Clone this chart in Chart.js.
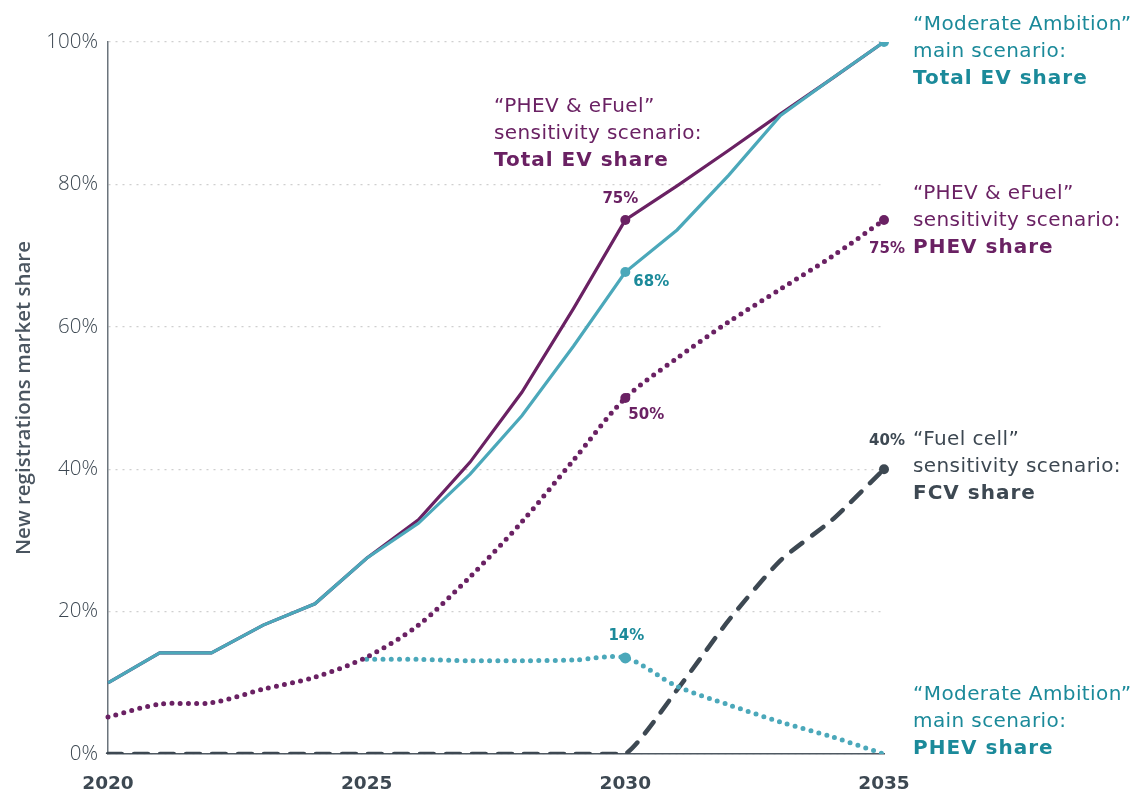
<!DOCTYPE html>
<html>
<head>
<meta charset="utf-8">
<script src="https://cdn.jsdelivr.net/npm/chart.js@4/dist/chart.umd.min.js"></script>
<style>
html,body{margin:0;padding:0;background:#fff;}
#wrap{width:1139px;height:791px;}
</style>
</head>
<body>
<div id="wrap"><canvas id="c" width="1139" height="791"></canvas></div>
<script>
const years = ['2020','2021','2022','2023','2024','2025','2026','2027','2028','2029','2030','2031','2032','2033','2034','2035'];
const xTickLabels = ['2020','2025','2030','2035'];
const yTickValues = [0,20,40,60,80,100];
const moderateTotalEV = [10,14.2,14.2,18.1,21.1,27.5,32.4,39.3,47.5,57.3,67.7,73.6,81.3,89.7,94.9,100];
const phevEfuelTotalEV = [10,14.2,14.2,18.1,21.1,27.5,32.9,41.0,50.8,62.6,75,79.8,84.8,89.9,94.9,100];
const phevEfuelPHEV = [5.2,7.0,7.2,9.1,10.8,13.6,18.1,24.9,32.6,41.3,50,55.6,60.7,65.3,69.9,75];
const moderatePHEV = [null,null,null,null,null,13.3,13.3,13.1,13.1,13.2,13.5,9.5,6.9,4.5,2.4,0];
const fuelCellFCV = [0,0,0,0,0,0,0,0,0,0,0,9,18.8,27.2,32.9,40];

const PURPLE = '#6a2163';
const TEAL_LINE = '#4ba8ba';
const TEAL_TEXT = '#1b8a9a';
const GRAY = '#3d4852';
const FONT = '"DejaVu Sans", sans-serif';

function markers(idxs, r){ return ctx => idxs.includes(ctx.dataIndex) ? r : 0; }

const annot = {
  id: 'annot',
  afterDatasetsDraw(chart){
    const ctx = chart.ctx;
    const xs = chart.scales.x, ys = chart.scales.y;
    const ca = chart.chartArea;
    ctx.save();
    ctx.textBaseline = 'middle';
    function txt(s, x, y, color, size, weight, align, spacing){
      ctx.font = (weight||400) + ' ' + size + 'px ' + FONT;
      ctx.letterSpacing = (spacing||0) + 'px';
      ctx.fillStyle = color;
      ctx.textAlign = align || 'left';
      ctx.fillText(s, x, y);
    }
    function block(lines, x, y, color){
      txt(lines[0], x, y, color, 20, 400, 'left', 0.4);
      txt(lines[1], x, y + 27, color, 20, 400, 'left', 0.4);
      txt(lines[2], x, y + 54, color, 20, 700, 'left', 1);
    }
    const rx = ca.right + 29;
    block(['\u201CModerate Ambition\u201D','main scenario:','Total EV share'], rx, 25, TEAL_TEXT);
    block(['\u201CPHEV & eFuel\u201D','sensitivity scenario:','PHEV share'], rx, 194, PURPLE);
    block(['\u201CFuel cell\u201D','sensitivity scenario:','FCV share'], rx, 440, GRAY);
    block(['\u201CModerate Ambition\u201D','main scenario:','PHEV share'], rx, 695, TEAL_TEXT);
    block(['\u201CPHEV & eFuel\u201D','sensitivity scenario:','Total EV share'], 494, 107, PURPLE);

    const x30 = xs.getPixelForValue(10), x35 = xs.getPixelForValue(15);
    txt('75%', x30 - 5, ys.getPixelForValue(phevEfuelTotalEV[10]) - 21, PURPLE, 15, 700, 'center');
    txt('68%', x30 + 8, ys.getPixelForValue(moderateTotalEV[10]) + 10, TEAL_TEXT, 15, 700, 'left');
    txt('50%', x30 + 3, ys.getPixelForValue(phevEfuelPHEV[10]) + 17, PURPLE, 15, 700, 'left');
    txt('14%', x30 + 1, ys.getPixelForValue(moderatePHEV[10]) - 22, TEAL_TEXT, 15, 700, 'center');
    txt('75%', x35 + 21, ys.getPixelForValue(phevEfuelPHEV[15]) + 29, PURPLE, 15, 700, 'right');
    txt('40%', x35 + 21, ys.getPixelForValue(fuelCellFCV[15]) - 28, GRAY, 15, 700, 'right');
    ctx.restore();
  }
};

new Chart(document.getElementById('c'), {
  type: 'line',
  data: {
    labels: years,
    datasets: [
      { label: 'Moderate Ambition total EV', data: moderateTotalEV, borderColor: TEAL_LINE, backgroundColor: TEAL_LINE,
        borderWidth: 3.2, pointRadius: markers([10,15],5), pointBorderWidth: 0, tension: 0 },
      { label: 'PHEV & eFuel total EV', data: phevEfuelTotalEV, borderColor: PURPLE, backgroundColor: PURPLE,
        borderWidth: 3.2, pointRadius: markers([10],5), pointBorderWidth: 0, tension: 0 },
      { label: 'PHEV & eFuel PHEV', data: phevEfuelPHEV, borderColor: PURPLE, backgroundColor: PURPLE,
        borderWidth: 5, borderDash: [0, 8.2], borderCapStyle: 'round', pointRadius: markers([10,15],5), pointBorderWidth: 0, tension: 0.3 },
      { label: 'Moderate Ambition PHEV', data: moderatePHEV, borderColor: TEAL_LINE, backgroundColor: TEAL_LINE,
        borderWidth: 5, borderDash: [0, 8.2], borderCapStyle: 'round', pointRadius: markers([10],5.5), pointBorderWidth: 0, tension: 0.3 },
      { label: 'Fuel cell FCV', data: fuelCellFCV, borderColor: GRAY, backgroundColor: GRAY,
        borderWidth: 4.5, borderDash: [14, 12], borderCapStyle: 'round', pointRadius: markers([15],5), pointBorderWidth: 0, tension: 0.2 }
    ]
  },
  options: {
    responsive: false,
    devicePixelRatio: 1,
    animation: false,
    layout: { padding: { top: 42, right: 255, left: 12, bottom: 0 } },
    plugins: { legend: { display: false }, tooltip: { enabled: false } },
    scales: {
      x: {
        grid: { display: false },
        border: { display: true, color: '#4f5962', width: 1.5 },
        afterFit(s){ s.height = 37; },
        ticks: {
          autoSkip: false, maxRotation: 0, padding: 11, color: GRAY,
          font: { family: FONT, size: 18.5, weight: 700 },
          callback(v, i){ const l = years[i]; return xTickLabels.includes(l) ? l : ''; }
        }
      },
      y: {
        min: 0, max: 100,
        afterFit(s){ s.width = 96; },
        afterBuildTicks(s){ s.ticks = yTickValues.map(v => ({ value: v })); },
        grid: { display: true, color: '#cfcfcf', lineWidth: 1.3, drawTicks: false },
        border: { display: true, color: '#6b747c', width: 1.5, dash: [2, 5] },
        ticks: { padding: 10, color: '#3d4852', font: { family: '"Open Sans", sans-serif', size: 20.5, weight: 300 }, callback: v => v + '%' },
        title: { display: true, text: 'New registrations market share', color: '#4a5560',
          font: { family: '"Open Sans", sans-serif', size: 20.5, weight: 600 }, padding: { top: 0, bottom: 0 } }
      }
    }
  },
  plugins: [annot]
});
</script>
</body>
</html>
